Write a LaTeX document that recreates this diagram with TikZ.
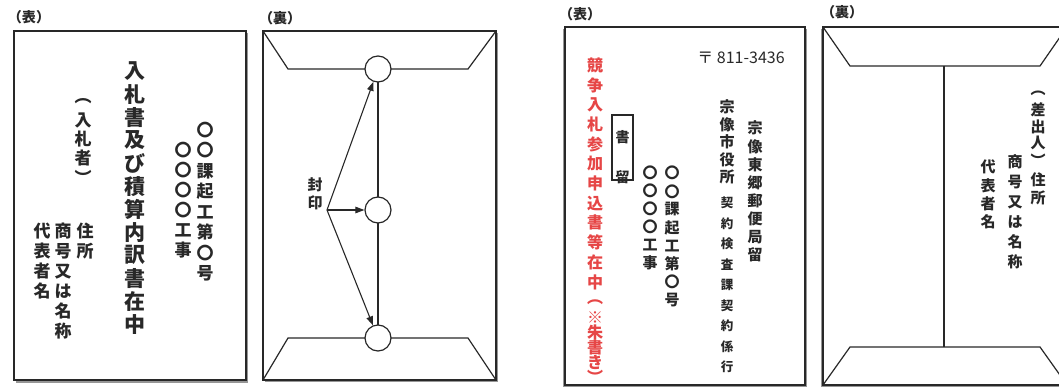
\documentclass[tikz,border=0pt]{standalone}
\usepackage{fontspec}
\setmainfont{Noto Sans CJK JP}
\usetikzlibrary{arrows.meta}
\definecolor{ink}{RGB}{40,40,40}
\definecolor{redink}{RGB}{230,70,70}
\definecolor{shade}{RGB}{150,150,150}
\ExplSyntaxOn
\NewDocumentCommand\vtext{mm}
 {
  \vbox:n
   {
    \offinterlineskip
    \tl_map_inline:nn {#2}
     {
      \hbox_to_wd:nn {1.2em}
       { \hss \vbox_to_ht:nn {#1} { \vss \hbox:n {##1} \vss } \hss }
     }
   }
 }
\ExplSyntaxOff
\tikzset{
  env/.style={draw=ink, line width=1.3pt, fill=white},
  envshadow/.style={fill=shade, draw=none},
  flap/.style={draw=ink, line width=1.2pt},
  col/.style={anchor=north, inner sep=0pt, text=ink},
  lab/.style={inner sep=0pt, text=ink, font=\bfseries\fontsize{14}{14}\selectfont},
  seal/.style={circle, draw=ink, line width=1.2pt, fill=white, minimum size=26pt, inner sep=0pt},
  arr/.style={draw=ink, line width=1.1pt, -{Triangle[length=9pt,width=6.5pt]}},
}
\begin{document}
\begin{tikzpicture}[x=1pt,y=-1pt]
\useasboundingbox (0,0) rectangle (1059,387);
\clip (0,0) rectangle (1059,387);
\fill[white] (0,0) rectangle (1059,387);

% ---------------- Panel 1 (front) ----------------
\node[lab] (l1) at (29,17) {（表）};
\fill[envshadow] (16,33) rectangle (248,383);
\draw[env] (14,31) rectangle (246,380);
\node[col, font=\bfseries\fontsize{17}{17}\selectfont] (p1a) at (205,119.5) {\vtext{20.5pt}{〇〇課起工第〇号}};
\node[col, font=\bfseries\fontsize{17}{17}\selectfont] (p1b) at (183,140) {\vtext{20pt}{〇〇〇〇工事}};
\node[col, font=\bfseries\fontsize{21}{21}\selectfont] (p1t) at (135,59.5) {\vtext{23pt}{入札書及び積算内訳書在中}};
\node[col, font=\bfseries\fontsize{17}{17}\selectfont] (p1n) at (83,91.5) {\vtext{19pt}{︵入札者︶}};
\node[col, font=\bfseries\fontsize{17}{17}\selectfont] (p1c) at (85,221) {\vtext{20pt}{住所}};
\node[col, font=\bfseries\fontsize{17}{17}\selectfont] (p1d) at (63,221) {\vtext{20pt}{商号又は名称}};
\node[col, font=\bfseries\fontsize{17}{17}\selectfont] (p1e) at (42,221) {\vtext{20pt}{代表者名}};

% ---------------- Panel 2 (back) ----------------
\node[lab] (l2) at (280,18) {（裏）};
\fill[envshadow] (265,33) rectangle (498,382);
\draw[env] (263,31) rectangle (496,380);
\draw[flap] (263,31) -- (288,69) -- (468,69) -- (496,31);
\draw[flap] (263,380) -- (288,338) -- (468,338) -- (496,380);
\draw[flap] (378,69) -- (378,338);
\node[seal] (s1) at (378,69) {};
\node[seal] (s2) at (378,210) {};
\node[seal] (s3) at (378,338) {};
\node[col, font=\bfseries\fontsize{15}{15}\selectfont] (fu) at (315,176) {\vtext{18pt}{封印}};
\coordinate (o) at (327,210);
\draw[arr] (o) -- (s1);
\draw[arr] (o) -- (s2);
\draw[arr] (o) -- (s3);

% ---------------- Panel 3 (front) ----------------
\node[lab] (l3) at (580,14) {（表）};
\fill[envshadow] (563,29) rectangle (807,390);
\draw[env] (565,27) rectangle (805,385);
\node[col, font=\bfseries\fontsize{16}{16}\selectfont, text=redink] (r1) at (595,55.2) {\vtext{19.7pt}{競争入札参加申込書等在中}};
\node[col, font=\bfseries\fontsize{16}{16}\selectfont, text=redink] (r2) at (595,294.5) {\vtext{15pt}{︵※朱書き︶}};
\draw[draw=ink, line width=1.2pt] (612,115) rectangle (633,180);
\node[col, font=\bfseries\fontsize{14}{14}\selectfont] (kt) at (622.5,117) {\vtext{40pt}{書留}};
\node[col, font=\bfseries\fontsize{15}{15}\selectfont] (p3a) at (672,164) {\vtext{18.1pt}{〇〇課起工第〇号}};
\node[col, font=\bfseries\fontsize{15}{15}\selectfont] (p3b) at (650,164) {\vtext{18pt}{〇〇〇〇工事}};
\node[inner sep=0pt, text=ink, font=\fontsize{16}{16}\selectfont] (zip) at (741,58) {〒 811-3436};
\node[col, font=\bfseries\fontsize{15}{15}\selectfont] (p3c) at (755,119) {\vtext{18.1pt}{宗像東郷郵便局留}};
\node[col, font=\bfseries\fontsize{15}{15}\selectfont] (p3d) at (727,98.2) {\vtext{17.5pt}{宗像市役所}};
\node[col, font=\bfseries\fontsize{12.5}{12.5}\selectfont] (p3e) at (727,192.7) {\vtext{20.5pt}{契約検査課契約係行}};

% ---------------- Panel 4 (back) ----------------
\node[lab] (l4) at (842,12) {（裏）};
\fill[envshadow] (821,29) rectangle (1075,390);
\draw[env] (823,27) rectangle (1067,385);
\draw[flap] (823,27) -- (850,66) -- (1040,66) -- (1067,27);
\draw[flap] (823,385) -- (850,347) -- (1040,347) -- (1067,385);
\draw[flap] (944,66) -- (944,347);
\node[col, font=\bfseries\fontsize{15}{15}\selectfont] (p4a) at (1038,84.7) {\vtext{16.7pt}{︵差出人︶}};
\node[col, font=\bfseries\fontsize{15}{15}\selectfont] (p4b) at (1038,171) {\vtext{18pt}{住所}};
\node[col, font=\bfseries\fontsize{15}{15}\selectfont] (p4c) at (1015,152) {\vtext{20pt}{商号又は名称}};
\node[col, font=\bfseries\fontsize{15}{15}\selectfont] (p4d) at (988,157.8) {\vtext{18.3pt}{代表者名}};
\end{tikzpicture}
\end{document}
